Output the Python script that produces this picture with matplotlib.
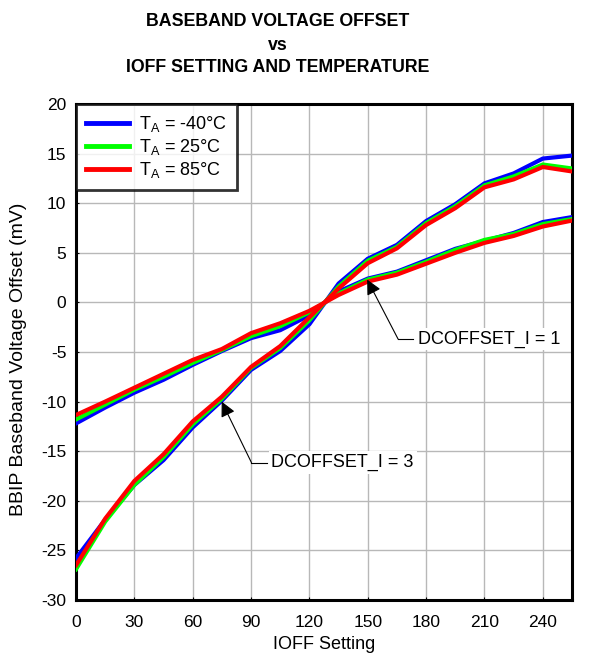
import matplotlib
matplotlib.use("Agg")
import matplotlib.pyplot as plt

plt.rcParams['font.family'] = ['Liberation Sans', 'DejaVu Sans']
plt.rcParams['mathtext.default'] = 'regular'
plt.rcParams['axes.unicode_minus'] = False

# IOFF setting (x axis)
ioff = [0, 15, 30, 45, 60, 75, 90, 105, 120, 135, 150, 165, 180, 195, 210, 225, 240, 255]

# DCOFFSET_I = 3 (steep curves), mV
off3_m40 = [-25.8, -21.9, -18.4, -15.9, -12.6, -9.9, -6.8, -4.9, -2.2, 1.9, 4.4, 5.8, 8.2, 9.9, 12.0, 13.0, 14.5, 14.8]
off3_25 = [-26.9, -22.1, -18.4, -15.6, -12.3, -9.7, -6.6, -4.6, -1.8, 1.6, 4.2, 5.6, 8.0, 9.7, 11.8, 12.7, 13.9, 13.5]
off3_85 = [-26.5, -21.8, -18.0, -15.3, -12.0, -9.5, -6.5, -4.4, -1.5, 1.4, 3.95, 5.45, 7.8, 9.5, 11.6, 12.4, 13.65, 13.2]

# DCOFFSET_I = 1 (shallow curves), mV
off1_m40 = [-12.2, -10.6, -9.1, -7.8, -6.3, -4.9, -3.6, -2.8, -1.3, 1.1, 2.4, 3.1, 4.25, 5.4, 6.2, 7.0, 8.1, 8.6]
off1_25 = [-11.8, -10.3, -8.8, -7.5, -6.1, -4.8, -3.4, -2.4, -1.0, 0.9, 2.3, 3.0, 4.1, 5.3, 6.3, 6.9, 7.9, 8.4]
off1_85 = [-11.35, -10.0, -8.6, -7.2, -5.8, -4.7, -3.1, -2.1, -0.85, 0.75, 2.1, 2.8, 3.9, 5.0, 6.0, 6.7, 7.65, 8.25]

labels = [r'T$_A$ = -40°C', r'T$_A$ = 25°C', r'T$_A$ = 85°C']
colors = ['#0000ff', '#00ff00', '#ff0000']

xticks = [0, 30, 60, 90, 120, 150, 180, 210, 240]
yticks = [-30, -25, -20, -15, -10, -5, 0, 5, 10, 15, 20]

fig = plt.figure(figsize=(6.10, 6.53), dpi=100)
ax = fig.add_axes([76 / 610, 1 - 600 / 653, 496 / 610, 496 / 653])

series3 = [off3_m40, off3_25, off3_85]
series1 = [off1_m40, off1_25, off1_85]
for s3, s1, c, lab in zip(series3, series1, colors, labels):
    ax.plot(ioff, s3, color=c, lw=3, label=lab, solid_joinstyle='miter', zorder=3)
    ax.plot(ioff, s1, color=c, lw=3, solid_joinstyle='miter', zorder=3)

ax.set_xlim(0, 255)
ax.set_ylim(-30, 20)
ax.set_xticks(xticks)
ax.set_yticks(yticks)
ax.grid(True, color='#b8b8b8', lw=1.0)
ax.set_axisbelow(True)
ax.tick_params(labelsize=12.5, length=2, direction='in', color='black')
ax.tick_params(axis='x', pad=11)
ax.tick_params(axis='y', pad=7)
for sp in ax.spines.values():
    sp.set_linewidth(2.2)

ax.set_xlabel('IOFF Setting', fontsize=13, labelpad=4)
ax.set_ylabel('BBIP Baseband Voltage Offset (mV)', fontsize=14, labelpad=6)
ax.yaxis.set_label_coords(-0.098, 0.486)

leg = ax.legend(loc='upper left', fontsize=13, frameon=True, fancybox=False,
                borderaxespad=0, handlelength=2.4, labelspacing=0.18,
                handletextpad=0.55, borderpad=0.55)
leg.get_frame().set_edgecolor('black')
leg.get_frame().set_linewidth(2.0)
for h in leg.legend_handles:
    h.set_linewidth(3.5)

# annotations
ann = [
    ('DCOFFSET_I = 1', (149.7, 2.3), (165.6, -3.7), (173.5, -3.7), (176, -3.7)),
    ('DCOFFSET_I = 3', (74.9, -10.0), (90.2, -16.15), (98.0, -16.15), (100.5, -16.15)),
]
for txt, tip, corner, hend, tpos in ann:
    ax.plot([hend[0], corner[0]], [hend[1], corner[1]], color='black', lw=0.8, zorder=4)
    ax.annotate('', xy=tip, xytext=corner,
                arrowprops=dict(arrowstyle='-|>,head_length=0.9,head_width=0.45',
                                color='black', lw=0.8, shrinkA=0, shrinkB=0),
                zorder=4)
    ax.text(tpos[0], tpos[1], txt, fontsize=13, ha='left', va='center',
            bbox=dict(facecolor='white', edgecolor='none', pad=2), zorder=4)

title_x = 278 / 610
fig.text(title_x, 1 - 22 / 653, 'BASEBAND VOLTAGE OFFSET', ha='center', va='center',
         fontsize=12.8, fontweight='bold')
fig.text(title_x, 1 - 45 / 653, 'vs', ha='center', va='center',
         fontsize=12.8, fontweight='bold')
fig.text(title_x, 1 - 68 / 653, 'IOFF SETTING AND TEMPERATURE', ha='center', va='center',
         fontsize=12.8, fontweight='bold')

fig.savefig('out.png', dpi=100)
